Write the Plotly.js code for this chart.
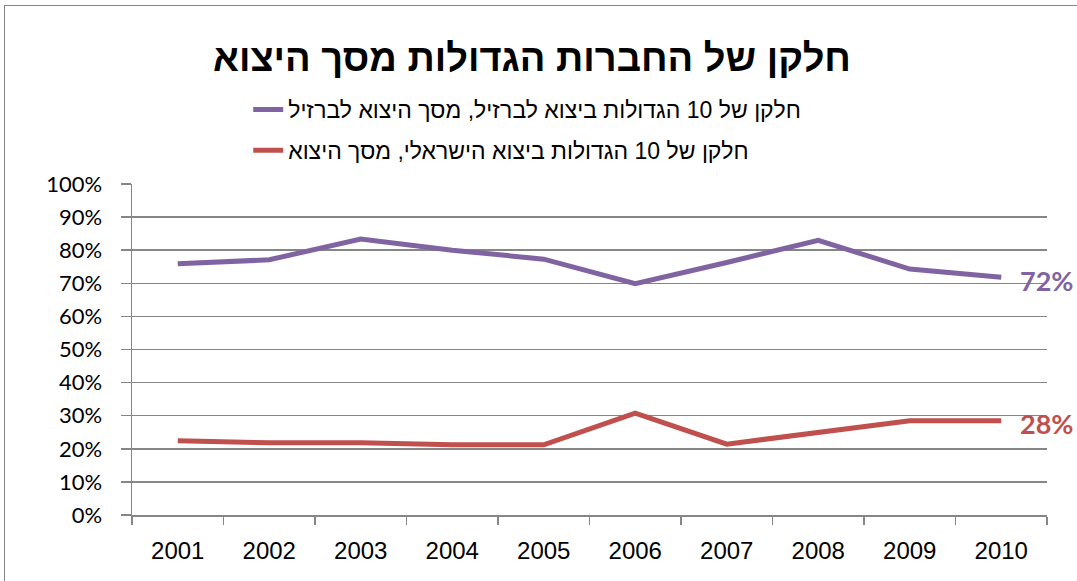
<!DOCTYPE html>
<html>
<head>
<meta charset="utf-8">
<script src="https://cdn.plot.ly/plotly-3.0.1.min.js"></script>
<style>
  html, body { margin: 0; padding: 0; background: #fff; overflow: hidden; }
  #wrap { position: relative; width: 1077px; height: 581px; }
  #frame { position: absolute; left: 4px; top: 5px; width: 1200px; height: 700px; border: 1.5px solid #868686; box-sizing: border-box; pointer-events: none; z-index: 5; }
  #chart { position: absolute; left: 0; top: 0; width: 1077px; height: 581px; }
</style>
</head>
<body>
<div id="wrap">
  <div id="chart"></div>
  <div id="frame"></div>
</div>
<script>
const years = ['2001','2002','2003','2004','2005','2006','2007','2008','2009','2010'];
const brazilShare = [0.759, 0.771, 0.834, 0.800, 0.773, 0.699, 0.763, 0.830, 0.743, 0.718];
const israelShare = [0.224, 0.218, 0.218, 0.212, 0.212, 0.308, 0.214, 0.248, 0.285, 0.285];
const brazilName = 'חלקן של 10 הגדולות ביצוא לברזיל, מסך היצוא לברזיל';
const israelName = 'חלקן של 10 הגדולות ביצוא הישראלי, מסך היצוא';
const titleText = 'חלקן של החברות הגדולות מסך היצוא';
const yTickVals = [0,0.1,0.2,0.3,0.4,0.5,0.6,0.7,0.8,0.9,1.0];
const yTickText = ['0%','10%','20%','30%','40%','50%','60%','70%','80%','90%','100%'];
const brazilLabel = '72%';
const israelLabel = '28%';

const purple = '#8064A2';
const red = '#C0504D';
const grid = '#868686';
const lastIdx = years.length - 1;

const traces = [
  { x: years, y: brazilShare, name: brazilName, legendgroup: 'br', type: 'scatter', mode: 'lines',
    line: { color: purple, width: 5 } },
  { x: years, y: israelShare, name: israelName, legendgroup: 'il', type: 'scatter', mode: 'lines',
    line: { color: red, width: 5 } }
];

const layout = {
  width: 1077, height: 581,
  margin: { l: 132, r: 30, t: 184, b: 66 },
  paper_bgcolor: '#fff', plot_bgcolor: '#fff',
  title: { text: titleText, x: 0.494, xanchor: 'center', y: 0.9, yanchor: 'middle',
    font: { family: 'Liberation Sans, Arial', size: 38, color: '#000', weight: 'bold' } },
  showlegend: true,
  legend: { x: 0.127, xanchor: 'left', y: 1.29, yanchor: 'top', orientation: 'v',
    font: { family: 'Liberation Sans, Arial', size: 23, color: '#000' },
    tracegroupgap: 8, bgcolor: 'rgba(0,0,0,0)' },
  xaxis: { type: 'category', range: [-0.5, 9.5], showgrid: false, showline: true,
    linecolor: grid, linewidth: 1.5, ticks: 'outside', ticklen: 8, tickcolor: grid, tickwidth: 1.5,
    tickson: 'boundaries', tickfont: { family: 'Liberation Sans, Arial', size: 24, color: '#000' },
    ticklabelstandoff: 14, fixedrange: true },
  yaxis: { range: [0, 1.0], tickvals: yTickVals, ticktext: yTickText, showgrid: true,
    gridcolor: grid, gridwidth: 1.5, showline: true, linecolor: grid, linewidth: 1.5,
    ticks: 'outside', ticklen: 10, tickcolor: grid, tickwidth: 1.5, zeroline: false,
    ticklabelstandoff: 14,
    tickfont: { family: 'Lato, Liberation Sans, Arial', size: 22, color: '#000' }, fixedrange: true },
  annotations: [
    { x: lastIdx, y: brazilShare[lastIdx], xref: 'x', yref: 'y', text: brazilLabel, showarrow: false,
      xanchor: 'left', yanchor: 'middle', xshift: 17, yshift: -3,
      font: { family: 'Lato, Open Sans, sans-serif', size: 27, color: purple, weight: 'bold' } },
    { x: lastIdx, y: israelShare[lastIdx], xref: 'x', yref: 'y', text: israelLabel, showarrow: false,
      xanchor: 'left', yanchor: 'middle', xshift: 17, yshift: -3,
      font: { family: 'Lato, Open Sans, sans-serif', size: 27, color: red, weight: 'bold' } }
  ]
};

Plotly.newPlot('chart', traces, layout, { displayModeBar: false, staticPlot: true });
</script>
</body>
</html>
